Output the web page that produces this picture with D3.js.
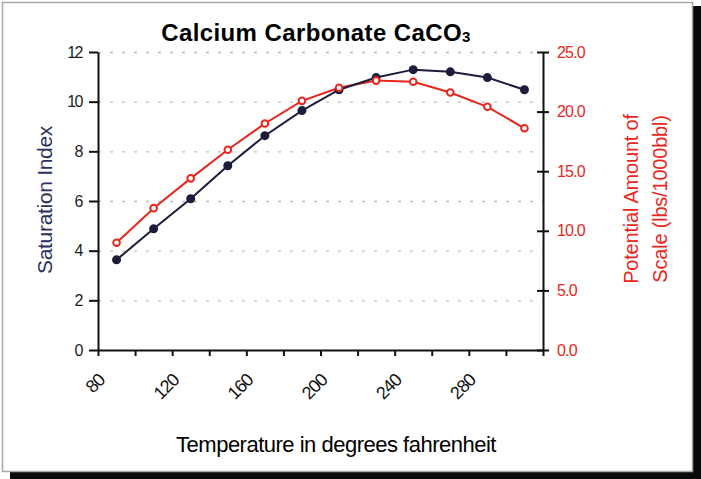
<!DOCTYPE html>
<html>
<head>
<meta charset="utf-8">
<script src="https://cdn.jsdelivr.net/npm/d3@7"></script>
<style>
  body { margin: 0; background: #fff; }
  svg { display: block; font-family: Arial, 'Liberation Sans', sans-serif; }
</style>
</head>
<body>
<div id="chart"></div>
<script>
// chart data
const temps = [90, 110, 130, 150, 170, 190, 210, 230, 250, 270, 290, 310]
const saturationIndex = [3.63, 4.88, 6.09, 7.42, 8.63, 9.64, 10.48, 10.97, 11.29, 11.2, 10.97, 10.48]
const scaleAmount = [9.0, 11.9, 14.4, 16.8, 19.0, 20.9, 22.0, 22.6, 22.5, 21.6, 20.4, 18.6]
const xTicks = [80, 100, 120, 140, 160, 180, 200, 220, 240, 260, 280, 300, 320]
const xLabels = [80, 120, 160, 200, 240, 280]
const leftTicks = [0, 2, 4, 6, 8, 10, 12]
const rightTicks = [0, 5, 10, 15, 20, 25]

const WIDTH = 701
const HEIGHT = 479
const PLOT = { left: 98, right: 543, top: 52, bottom: 350 }
const NAVY = '#1c1c3c'
const RED = '#e8261c'

const svg = d3.select('#chart')
  .append('svg')
  .attr('width', WIDTH)
  .attr('height', HEIGHT)

// frame with dark shadow on right / bottom
svg.append('rect')
  .attr('x', 10).attr('y', 6)
  .attr('width', WIDTH - 10).attr('height', HEIGHT - 6)
  .attr('fill', '#0a0a0a')
svg.append('rect')
  .attr('x', 2.5).attr('y', 2.5)
  .attr('width', 690).attr('height', 469)
  .attr('fill', '#fff')
  .attr('stroke', '#a8a8a8')
  .attr('stroke-width', 1.5)

const x = d3.scaleLinear().domain([80, 320]).range([PLOT.left, PLOT.right])
const yLeft = d3.scaleLinear().domain([0, 12]).range([PLOT.bottom, PLOT.top])
const yRight = d3.scaleLinear().domain([0, 25]).range([PLOT.bottom, PLOT.top])

// dotted grid
svg.append('g')
  .attr('transform', 'translate(' + PLOT.left + ',0)')
  .call(d3.axisLeft(yLeft).tickValues(leftTicks.slice(1)).tickSize(-(PLOT.right - PLOT.left)).tickFormat(''))
  .call(g => g.select('.domain').remove())
  .call(g => g.selectAll('line')
    .attr('stroke', '#bdbdbd')
    .attr('stroke-width', 1.3)
    .attr('stroke-dasharray', '3,9'))

// left axis
svg.append('g')
  .attr('transform', 'translate(' + PLOT.left + ',0)')
  .call(d3.axisLeft(yLeft).tickValues(leftTicks).tickSize(9).tickSizeOuter(0).tickPadding(7))
  .call(g => g.select('.domain').attr('stroke', '#111').attr('stroke-width', 2))
  .call(g => g.selectAll('line').attr('stroke', '#111').attr('stroke-width', 2))
  .call(g => g.selectAll('text')
    .attr('fill', '#222')
    .attr('font-size', 16)
    .attr('letter-spacing', -1.5))

// right axis, ticks crossing the line
const rightAxis = svg.append('g')
  .attr('transform', 'translate(' + PLOT.right + ',0)')
  .call(d3.axisRight(yRight).tickValues(rightTicks).tickSize(6).tickSizeOuter(0).tickPadding(8)
    .tickFormat(d3.format('.1f')))
rightAxis.select('.domain').attr('stroke', '#111').attr('stroke-width', 2)
rightAxis.selectAll('line').attr('stroke', '#111').attr('stroke-width', 2).attr('x1', -6)
rightAxis.selectAll('text')
  .attr('fill', RED)
  .attr('font-size', 16)
  .attr('letter-spacing', -0.8)

// bottom axis
const xAxis = svg.append('g')
  .attr('transform', 'translate(0,' + PLOT.bottom + ')')
  .call(d3.axisBottom(x).tickValues(xTicks).tickSize(6).tickSizeOuter(0)
    .tickFormat(d => xLabels.includes(d) ? d : ''))
xAxis.select('.domain').attr('stroke', '#111').attr('stroke-width', 2)
xAxis.selectAll('line').attr('stroke', '#111').attr('stroke-width', 2)
xAxis.selectAll('text')
  .attr('fill', '#111')
  .attr('font-size', 18)
  .attr('letter-spacing', -1)
  .attr('text-anchor', 'end')
  .attr('dy', 0)
  .attr('transform', 'translate(1,25) rotate(-45)')

// lines
const navyLine = d3.line()
  .x((d, i) => x(temps[i]))
  .y(d => yLeft(d))
const redLine = d3.line()
  .x((d, i) => x(temps[i]))
  .y(d => yRight(d))

svg.append('path')
  .datum(scaleAmount)
  .attr('fill', 'none')
  .attr('stroke', RED)
  .attr('stroke-width', 2)
  .attr('d', redLine)

svg.append('path')
  .datum(saturationIndex)
  .attr('fill', 'none')
  .attr('stroke', NAVY)
  .attr('stroke-width', 2)
  .attr('d', navyLine)

svg.append('g')
  .selectAll('circle')
  .data(saturationIndex)
  .enter()
  .append('circle')
  .attr('cx', (d, i) => x(temps[i]))
  .attr('cy', d => yLeft(d))
  .attr('r', 4.5)
  .attr('fill', NAVY)

svg.append('g')
  .selectAll('circle')
  .data(scaleAmount)
  .enter()
  .append('circle')
  .attr('cx', (d, i) => x(temps[i]))
  .attr('cy', d => yRight(d))
  .attr('r', 3.3)
  .attr('fill', '#fff')
  .attr('stroke', RED)
  .attr('stroke-width', 2)

// title
const title = svg.append('text')
  .attr('x', 316)
  .attr('y', 41)
  .attr('text-anchor', 'middle')
  .attr('font-size', 24)
  .attr('font-weight', 'bold')
  .attr('letter-spacing', 0.4)
  .attr('fill', '#000')
title.append('tspan').text('Calcium Carbonate CaCO')
title.append('tspan').attr('font-size', 15).attr('dy', 1).text('3')

// axis titles
svg.append('text')
  .attr('transform', 'translate(52,200) rotate(-90)')
  .attr('text-anchor', 'middle')
  .attr('font-size', 21)
  .attr('letter-spacing', -0.3)
  .attr('fill', '#2a3060')
  .text('Saturation Index')

const rightTitle = svg.append('text')
  .attr('transform', 'translate(638,199) rotate(-90)')
  .attr('text-anchor', 'middle')
  .attr('font-size', 20)
  .attr('letter-spacing', -0.2)
  .attr('fill', RED)
rightTitle.append('tspan').attr('x', 0).attr('dy', 0).text('Potential Amount of')
rightTitle.append('tspan').attr('x', 0).attr('dy', 29).text('Scale (lbs/1000bbl)')

svg.append('text')
  .attr('x', 336)
  .attr('y', 452)
  .attr('text-anchor', 'middle')
  .attr('font-size', 22)
  .attr('letter-spacing', -0.5)
  .attr('fill', '#000')
  .text('Temperature in degrees fahrenheit')
</script>
</body>
</html>
